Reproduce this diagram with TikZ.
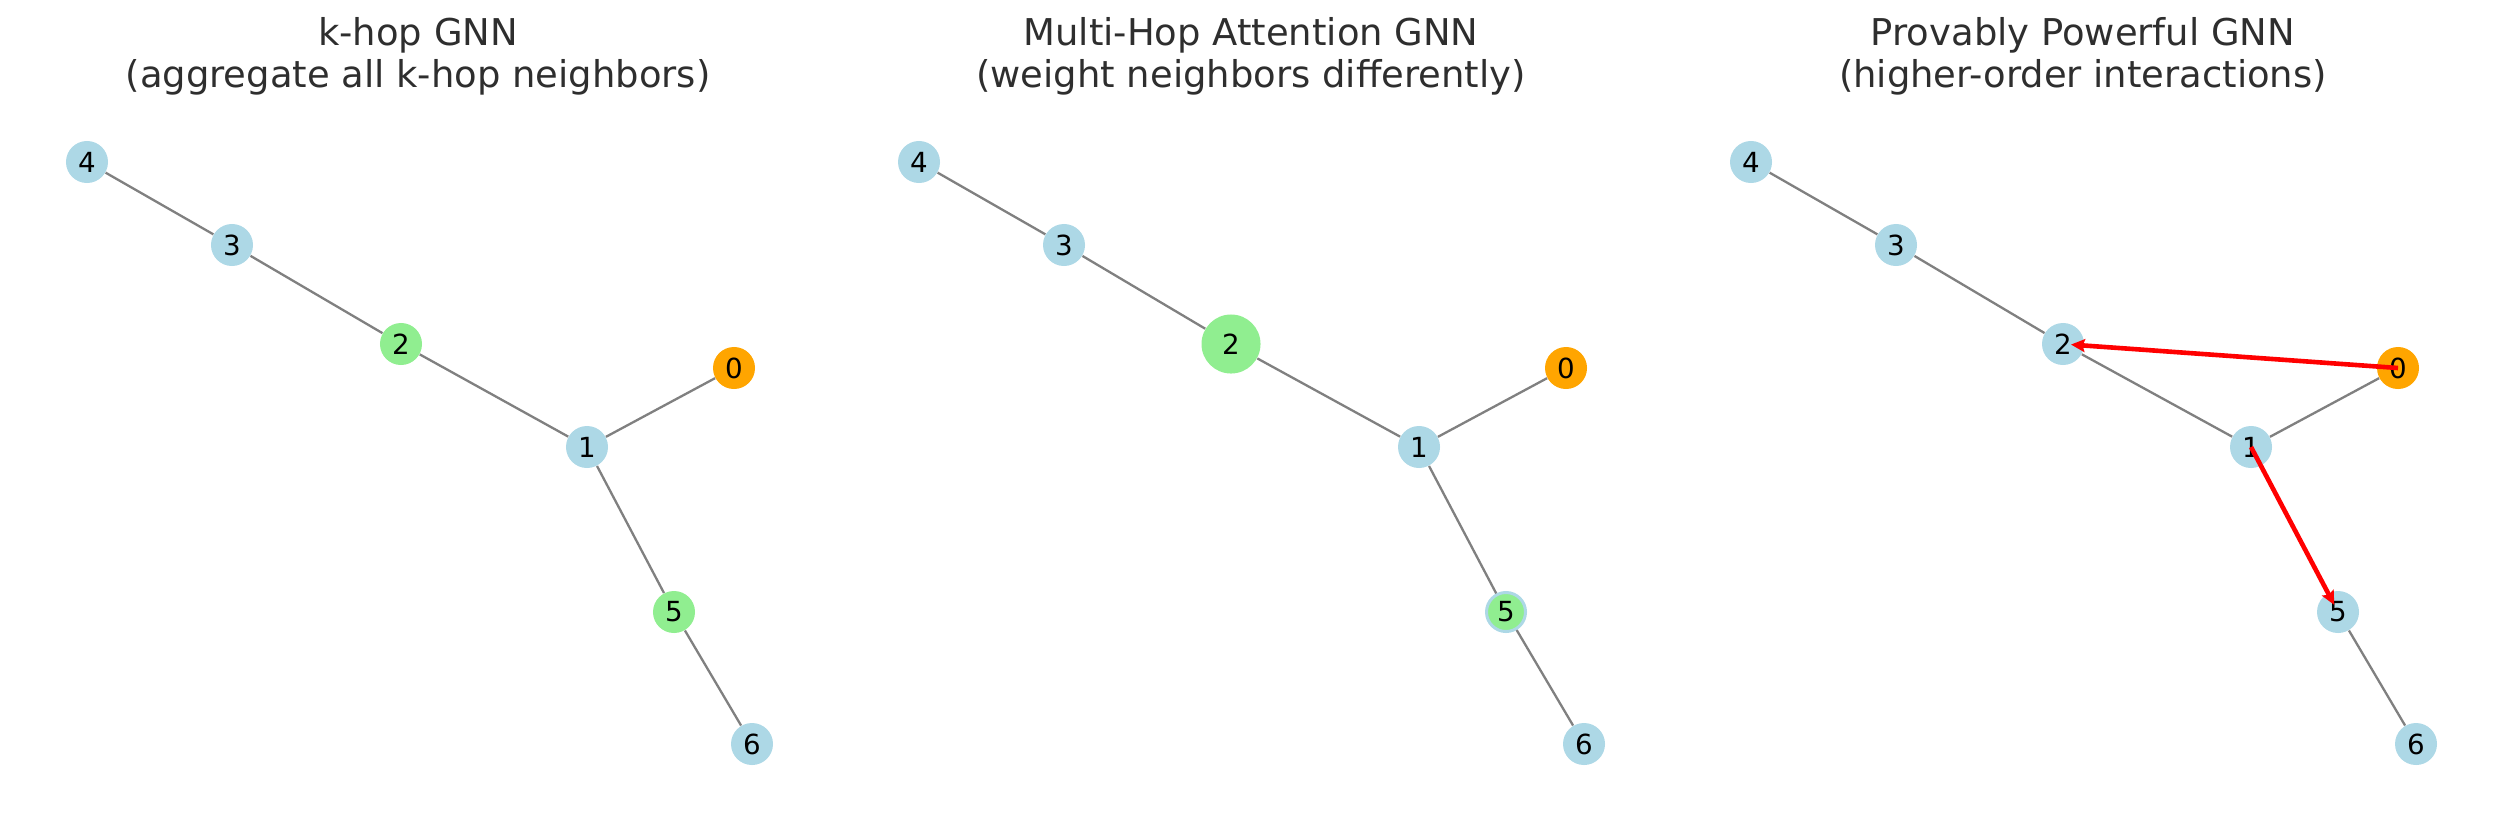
\documentclass[tikz,border=0pt]{standalone}
\usepackage{fontspec}
\setmainfont{DejaVu Sans}
\usepackage{xcolor}
\usetikzlibrary{arrows.meta}
\definecolor{nodeblue}{HTML}{ADD8E6}
\definecolor{nodegreen}{HTML}{90EE90}
\definecolor{nodeorange}{HTML}{FFA500}
\definecolor{titlegray}{HTML}{2E2E2E}

\begin{document}
\begin{tikzpicture}[
    x=0.006in, y=-0.006in,
    vtx/.style={circle, fill=nodeblue, minimum size=0.252in, inner sep=0pt,
        font=\fontsize{12}{14}\selectfont},
    link/.style={draw=gray, line width=1pt},
    hop/.style={-{Stealth[length=6pt, width=5.6pt, inset=1pt]}, draw=red,
        line width=2pt, shorten >=0.048in},
    title/.style={anchor=north, align=center, inner sep=0pt, text=titlegray,
        font=\fontsize{16}{18.3}\selectfont}
]
\useasboundingbox (0,0) rectangle (2500,822);

% k-hop GNN
\node[title] (ta) at (418,17) {k-hop GNN\\(aggregate all k-hop neighbors)};
\node[vtx, fill=nodeorange] (a0) at (734,368) {0};
\node[vtx] (a1) at (587,447) {1};
\node[vtx, fill=nodegreen] (a2) at (401,344) {2};
\node[vtx] (a3) at (232,245) {3};
\node[vtx] (a4) at (87,162) {4};
\node[vtx, fill=nodegreen] (a5) at (674,612) {5};
\node[vtx] (a6) at (752,744) {6};
\draw[link] (a4) -- (a3) -- (a2) -- (a1) -- (a0) (a1) -- (a5) -- (a6);

% Multi-Hop Attention GNN
\node[title] (tb) at (1251,17) {Multi-Hop Attention GNN\\(weight neighbors differently)};
\node[vtx, fill=nodeorange] (b0) at (1566,368) {0};
\node[vtx] (b1) at (1419,447) {1};
\node[vtx, fill=nodegreen, minimum size=0.354in] (b2) at (1231,344) {2};
\node[vtx] (b3) at (1064,245) {3};
\node[vtx] (b4) at (919,162) {4};
\node[vtx, fill=nodegreen, draw=nodeblue, line width=0.018in, minimum size=0.234in] (b5) at (1506,612) {5};
\node[vtx] (b6) at (1584,744) {6};
\draw[link] (b4) -- (b3) -- (b2) -- (b1) -- (b0) (b1) -- (b5) -- (b6);

% Provably Powerful GNN
\node[title] (tc) at (2083,17) {Provably Powerful GNN\\(higher-order interactions)};
\node[vtx, fill=nodeorange] (c0) at (2398,368) {0};
\node[vtx] (c1) at (2251,447) {1};
\node[vtx] (c2) at (2063,344) {2};
\node[vtx] (c3) at (1896,245) {3};
\node[vtx] (c4) at (1751,162) {4};
\node[vtx] (c5) at (2338,612) {5};
\node[vtx] (c6) at (2416,744) {6};
\draw[link] (c4) -- (c3) -- (c2) -- (c1) -- (c0) (c1) -- (c5) -- (c6);

% 高次の相互作用
\draw[hop] (c0.center) -- (c2.center);
\draw[hop] (c1.center) -- (c5.center);

\end{tikzpicture}
\end{document}
